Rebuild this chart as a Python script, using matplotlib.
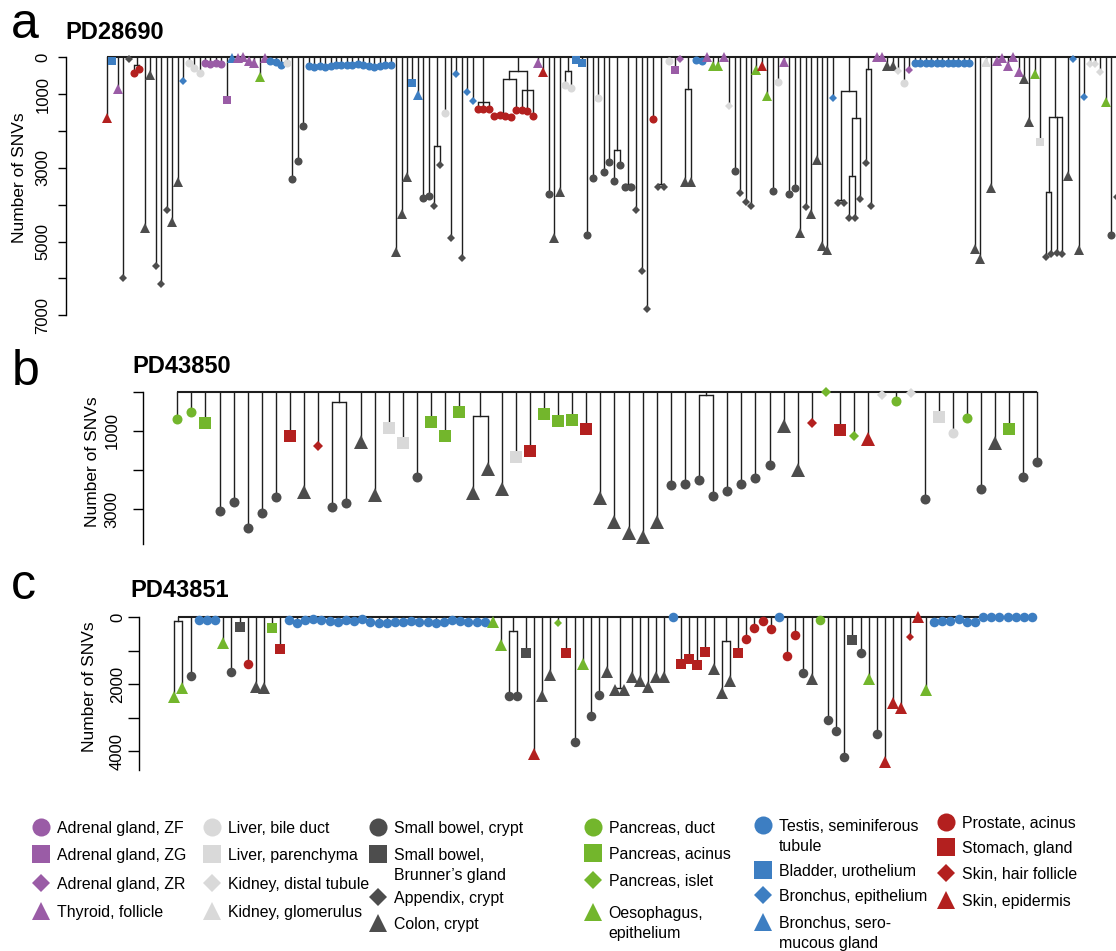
import matplotlib
matplotlib.use('Agg')
import matplotlib.pyplot as plt

plt.rcParams['font.family'] = ['Liberation Sans', 'DejaVu Sans']

W, H = 1116, 951

PURPLE, LGREY, DGREY = '#9A5CA6', '#D9D9D9', '#4D4D4D'
GREEN, BLUE, RED = '#73B62C', '#3D7EC2', '#B3201F'

# tissue code -> (colour, marker)
style = {
    'AF': (PURPLE, 'o'), 'AG': (PURPLE, 's'), 'AR': (PURPLE, 'D'), 'TH': (PURPLE, '^'),
    'LB': (LGREY, 'o'), 'LP': (LGREY, 's'), 'KD': (LGREY, 'D'), 'KG': (LGREY, '^'),
    'SB': (DGREY, 'o'), 'BG': (DGREY, 's'), 'AP': (DGREY, 'D'), 'CO': (DGREY, '^'),
    'PD': (GREEN, 'o'), 'PA': (GREEN, 's'), 'PI': (GREEN, 'D'), 'OE': (GREEN, '^'),
    'TE': (BLUE, 'o'), 'BL': (BLUE, 's'), 'BE': (BLUE, 'D'), 'BS': (BLUE, '^'),
    'PR': (RED, 'o'), 'ST': (RED, 's'), 'SH': (RED, 'D'), 'SE': (RED, '^'),
}

# ---- PD28690 : tips in plotting order ----
a_tissue = ('SE BL TH AP AP PR PR CO CO AP '
            'AP AP CO CO BE LB LB LB AF AF '
            'AF AF AG BS TH TH TH TH OE TH '
            'TE TE TE LB SB SB SB TE TE TE '
            'TE TE TE TE TE TE TE TE TE TE '
            'TE TE TE CO CO CO BL BS SB SB '
            'AP AP LB AP BE AP BE BE PR PR '
            'PR PR PR PR PR PR PR PR PR TH '
            'SE SB CO CO LB LB BL BL SB SB '
            'LB SB SB SB SB SB SB AP AP AP '
            'PR AP AP LB AG AR CO CO TE TE '
            'TH OE OE TH KD SB AP AP AP OE '
            'SE OE SB LB TH SB SB CO AP CO '
            'CO CO CO BE AP AP AP AP AP AP '
            'AP TH TH CO CO KD LB AR TE TE '
            'TE TE TE TE TE TE TE TE TE CO '
            'CO KG CO TH TH TH TH TH CO CO '
            'OE LP AP AP AP AP CO BE CO BE '
            'KD KD KD OE SB AP').split()
a_snv = [1650, 100, 870, 5980, 50, 430, 330, 4640, 480, 5655,
         6145, 4145, 4460, 3375, 635, 145, 300, 435, 160, 170,
         150, 170, 1160, 30, 30, 0, 100, 150, 525, 30,
         100, 130, 200, 150, 3300, 2820, 1865, 230, 250, 240,
         250, 230, 220, 200, 210, 200, 180, 210, 230, 250,
         240, 200, 210, 5275, 4260, 3240, 705, 1020, 3810, 3765,
         4035, 2915, 1520, 4895, 450, 5440, 930, 1185, 1410, 1410,
         1410, 1600, 1570, 1590, 1630, 1430, 1430, 1450, 1590, 145,
         390, 3710, 4895, 3665, 750, 840, 70, 165, 4825, 3270,
         1115, 3105, 2830, 3360, 2920, 3510, 3510, 4145, 5800, 6830,
         1675, 3510, 3510, 90, 345, 55, 3390, 3390, 60, 100,
         0, 225, 225, 0, 1320, 3085, 3690, 3920, 4030, 345,
         225, 1040, 3630, 680, 120, 3720, 3555, 4760, 4055, 4255,
         2790, 5120, 5230, 1115, 3965, 3965, 4370, 4370, 3835, 2880,
         4035, 0, 0, 225, 225, 360, 705, 345, 145, 145,
         145, 145, 145, 145, 145, 145, 145, 145, 145, 5210,
         5485, 120, 3555, 100, 30, 235, 0, 390, 600, 1765,
         450, 2310, 5430, 5340, 5300, 5340, 3220, 45, 5230, 1070,
         180, 180, 390, 1200, 4825, 3800]
# internal nodes: (first tip, last tip, SNVs at node)
a_clades = [(5, 6, 210), (60, 61, 2400), (68, 70, 1220), (71, 74, 1565),
            (71, 75, 590), (76, 78, 885), (71, 78, 370), (84, 85, 360),
            (93, 94, 2515), (95, 96, 3440), (101, 102, 3440), (106, 107, 870),
            (134, 135, 3880), (136, 137, 3220), (136, 138, 1655), (134, 138, 905),
            (139, 140, 325), (172, 173, 3665), (172, 175, 1610)]

# ---- PD43850 ----
b_tissue = ('PD PD PA SB SB SB SB SB ST CO '
            'SH SB SB CO CO LP LP SB PA PA '
            'PA CO CO CO LP ST PA PA PA ST '
            'CO CO CO CO CO SB SB SB SB SB '
            'SB SB SB CO CO SH PI ST PI SE '
            'KD PD KD SB LP LB PD SB CO PA '
            'SB SB').split()
b_snv = [700, 527, 808, 3040, 2805, 3485, 3100, 2680, 1140, 2550,
         1385, 2930, 2850, 1275, 2635, 918, 1318, 2185, 782, 1140,
         527, 2575, 1972, 2490, 1675, 1513, 578, 748, 723, 960,
         2720, 3315, 3610, 3700, 3315, 2390, 2355, 2250, 2650, 2525,
         2355, 2210, 1880, 875, 2000, 790, 0, 978, 1120, 1215,
         85, 238, 25, 2745, 655, 1045, 680, 2490, 1300, 960,
         2185, 1795]
b_clades = [(11, 12, 272), (21, 22, 612), (37, 38, 85)]

# ---- PD43851 ----
c_tissue = ('OE OE SB TE TE TE OE SB BG PR '
            'CO CO PA ST TE TE TE TE TE TE '
            'TE TE TE TE TE TE TE TE TE TE '
            'TE TE TE TE TE TE TE TE TE OE '
            'OE SB SB BG SE CO CO PI ST SB '
            'OE SB SB CO CO CO CO CO CO CO '
            'CO TE ST ST ST ST CO CO CO ST '
            'PR PR PR PR TE PR PR SB CO PD '
            'SB SB SB BG SB OE SB SE SE SE '
            'SH SE OE TE TE TE TE TE TE TE '
            'TE TE TE TE TE TE').split()
c_snv = [2370, 2100, 1740, 80, 80, 80, 755, 1640, 300, 1390,
         2070, 2120, 330, 955, 80, 180, 80, 60, 80, 110,
         130, 80, 110, 50, 130, 160, 160, 130, 130, 110,
         130, 130, 180, 130, 80, 110, 150, 130, 130, 130,
         825, 2350, 2350, 1055, 4080, 2350, 1720, 180, 1075, 3710,
         1390, 2935, 2320, 1620, 2170, 2170, 1790, 1900, 2070, 1790,
         1790, 0, 1400, 1245, 1430, 1045, 1550, 2270, 1890, 1075,
         655, 330, 110, 360, 0, 1145, 535, 1670, 1840, 80,
         3065, 3400, 4180, 675, 1055, 1840, 3480, 4330, 2550, 2715,
         575, 0, 2170, 130, 100, 110, 60, 130, 130, 0,
         0, 0, 0, 0, 0, 0]
c_clades = [(0, 1, 110), (41, 42, 400), (54, 55, 2100), (67, 68, 705)]

legend_cols = [
    [('AF', 'Adrenal gland, ZF'), ('AG', 'Adrenal gland, ZG'),
     ('AR', 'Adrenal gland, ZR'), ('TH', 'Thyroid, follicle')],
    [('LB', 'Liver, bile duct'), ('LP', 'Liver, parenchyma'),
     ('KD', 'Kidney, distal tubule'), ('KG', 'Kidney, glomerulus')],
    [('SB', 'Small bowel, crypt'), ('BG', 'Small bowel,\nBrunner\u2019s gland'),
     ('AP', 'Appendix, crypt'), ('CO', 'Colon, crypt')],
    [('PD', 'Pancreas, duct'), ('PA', 'Pancreas, acinus'),
     ('PI', 'Pancreas, islet'), ('OE', 'Oesophagus,\nepithelium')],
    [('TE', 'Testis, seminiferous\ntubule'), ('BL', 'Bladder, urothelium'),
     ('BE', 'Bronchus, epithelium'), ('BS', 'Bronchus, sero-\nmucous gland')],
    [('PR', 'Prostate, acinus'), ('ST', 'Stomach, gland'),
     ('SH', 'Skin, hair follicle'), ('SE', 'Skin, epidermis')],
]

LINE = '#1E1E1E'


def draw_tree(ax, tissue, snv, clades, sizes):
    n = len(tissue)

    def inside(lo, hi):
        inner = [c for c in clades if lo <= c[0] and c[1] <= hi and (c[0], c[1]) != (lo, hi)]
        return {c[0]: c for c in inner
                if not any(o is not c and o[0] <= c[0] and c[1] <= o[1] for o in inner)}

    def node(lo, hi, depth, lw):
        xs = []
        subs = inside(lo, hi)
        i = lo
        while i <= hi:
            if i in subs:
                c = subs[i]
                x = node(c[0], c[1], c[2], 1.0)
                ax.plot([x, x], [depth, c[2]], color=LINE, lw=1.0, zorder=2, clip_on=False)
                i = c[1] + 1
            else:
                x = i
                ax.plot([x, x], [depth, snv[i]], color=LINE, lw=1.0, zorder=2, clip_on=False)
                i += 1
            xs.append(x)
        ax.plot([min(xs), max(xs)], [depth, depth], color=LINE, lw=lw, zorder=2,
                clip_on=False, solid_capstyle='butt')
        return (min(xs) + max(xs)) / 2

    node(0, n - 1, 0, 1.5)
    for i, code in enumerate(tissue):
        col, mk = style[code]
        ax.plot(i, snv[i], ls='none', marker=mk, ms=sizes[mk], mfc=col, mec=col,
                mew=0, zorder=3, clip_on=False)


fig = plt.figure(figsize=(W / 100, H / 100), dpi=100)
over = fig.add_axes([0, 0, 1, 1], zorder=0)
over.set_xlim(0, W)
over.set_ylim(H, 0)
over.axis('off')

panels = [
    dict(letter='a', name='PD28690', tissue=a_tissue, snv=a_snv, clades=a_clades,
         box=(66, 57.3, 315.3), xlim=(-7.45, 184.85), ymax=7000, axend=7000,
         ticks=range(0, 7001, 1000), labels=[0, 1000, 3000, 5000, 7000],
         ticklen=5.6, pad=5.5,
         sizes={'o': 5.8, 's': 5.6, 'D': 3.7, '^': 6.8},
         letter_xy=(11, 38), title_xy=(65, 39), ylab_xy=(20, 178)),
    dict(letter='b', name='PD43850', tissue=b_tissue, snv=b_snv, clades=b_clades,
         box=(143.3, 391.7, 544), xlim=(-2.41, 66.57), ymax=3885, axend=3885,
         ticks=range(0, 3001, 1000), labels=[1000, 3000],
         ticklen=7.2, pad=10,
         sizes={'o': 7.2, 's': 8.0, 'D': 4.6, '^': 9.5},
         letter_xy=(12, 385), title_xy=(132, 373), ylab_xy=(92.5, 462)),
    dict(letter='c', name='PD43851', tissue=c_tissue, snv=c_snv, clades=c_clades,
         box=(139.3, 617.3, 770), xlim=(-4.28, 115.26), ymax=4560, axend=4560,
         ticks=range(0, 4001, 1000), labels=[0, 2000, 4000],
         ticklen=7.8, pad=2.5,
         sizes={'o': 6.9, 's': 7.4, 'D': 4.4, '^': 9.3},
         letter_xy=(11, 599), title_xy=(130, 597), ylab_xy=(89, 687)),
]

for p in panels:
    left, top, bottom = p['box']
    ax = fig.add_axes([left / W, 1 - bottom / H, (W - left) / W, (bottom - top) / H], zorder=1)
    ax.patch.set_alpha(0)
    ax.set_xlim(*p['xlim'])
    ax.set_ylim(p['ymax'], 0)
    for s in ('top', 'right', 'bottom'):
        ax.spines[s].set_visible(False)
    ax.spines['left'].set_bounds(0, p['axend'])
    ax.spines['left'].set_linewidth(1.0)
    ax.set_xticks([])
    ax.set_yticks(list(p['ticks']))
    ax.set_yticklabels([str(t) if t in p['labels'] else '' for t in p['ticks']])
    ax.tick_params(axis='y', length=p['ticklen'], width=1.0, pad=p['pad'],
                   labelsize=12, labelrotation=90)
    for lab in ax.get_yticklabels():
        lab.set_va('center')
    draw_tree(ax, p['tissue'], p['snv'], p['clades'], p['sizes'])

    over.text(p['letter_xy'][0], p['letter_xy'][1], p['letter'], fontsize=36,
              ha='left', va='baseline')
    over.text(p['title_xy'][0], p['title_xy'][1], p['name'], fontsize=17,
              fontweight='bold', ha='left', va='baseline')
    over.text(p['ylab_xy'][0], p['ylab_xy'][1], 'Number of SNVs', fontsize=12.5,
              rotation=90, ha='center', va='center')

# legend
col_mx = [41, 212, 378, 592.7, 762.7, 946]
col_rows = [[826.7, 854, 883, 911],
            [826.7, 854, 883, 911],
            [826.7, 854, 897, 923],
            [826.7, 853, 880, 912],
            [825, 870, 895, 922],
            [822, 847, 873, 900]]
leg_sizes = {'o': 13, 's': 12.5, 'D': 9.2, '^': 13}
for mx, rows, items in zip(col_mx, col_rows, legend_cols):
    for y, (code, label) in zip(rows, items):
        col, mk = style[code]
        over.plot(mx, y, ls='none', marker=mk, ms=leg_sizes[mk], mfc=col, mec=col, mew=0)
        for k, line in enumerate(label.split('\n')):
            over.text(mx + 16, y + 6 + 20 * k, line, fontsize=11.4, ha='left', va='baseline')

fig.savefig('out.png', dpi=100)
